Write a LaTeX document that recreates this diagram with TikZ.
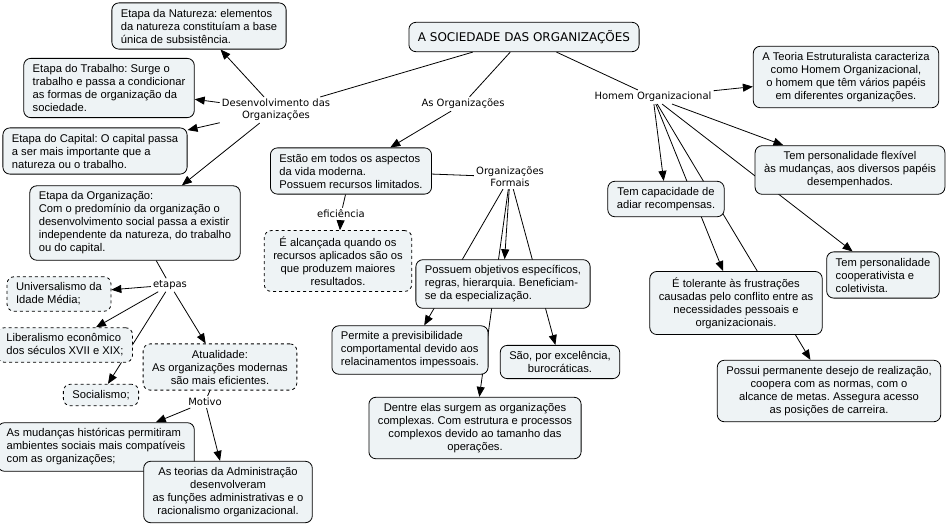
\documentclass[tikz,border=0pt]{standalone}
\usepackage{fontspec}
\newfontfamily\conceptfont{Liberation Sans}
\newfontfamily\linkfont{DejaVu Sans}
\usetikzlibrary{arrows.meta,backgrounds}
\definecolor{conceptfill}{HTML}{EEF3F5}
\frenchspacing

\begin{document}
\begin{tikzpicture}[x=1pt,y=-1pt]
        \useasboundingbox (0,0) rectangle (949,528);

        % concepts
        \begin{scope}[every node/.style={draw, rounded corners=7pt, fill=conceptfill,
            line width=.8pt, inner xsep=9pt, inner ysep=6pt,
            font=\conceptfont\fontsize{11.2}{13}\selectfont}]
          \node[font=\linkfont\fontsize{12}{14}\selectfont, inner ysep=8pt] (soc) at (524,37) {A SOCIEDADE DAS ORGANIZAÇÕES};
          \node[align=left] (nat) at (199,26)  {Etapa da Natureza: elementos\\da natureza constituíam a base\\única de subsistência.};
          \node[align=left] (trab) at (109,88) {Etapa do Trabalho: Surge o\\trabalho e passa a condicionar\\as formas de organização da\\sociedade.};
          \node[align=left] (cap) at (95,151)  {Etapa do Capital: O capital passa\\a ser mais importante que a\\natureza ou o trabalho.};
          \node[align=left] (org) at (135,223) {Etapa da Organização:\\Com o predomínio da organização o\\desenvolvimento social passa a existir\\independente da natureza, do trabalho\\ou do capital.};
          \node[align=left, dashed] (univ) at (59,294) {Universalismo da\\Idade Média;};
          \node[align=left, dashed] (lib) at (65,345)  {Liberalismo econômico\\dos séculos XVII e XIX;};
          \node[dashed] (socl) at (101,395) {Socialismo;};
          \node[align=center, dashed] (atual) at (220,367) {Atualidade:\\As organizações modernas\\são mais eficientes.};
          \node[align=left] (mud) at (96,447)  {As mudanças históricas permitiram\\ambientes sociais mais compatíveis\\com as organizações;};
          \node[align=center] (teor) at (228,492) {As teorias da Administração\\desenvolveram\\as funções administrativas e o\\racionalismo organizacional.};
          \node[align=left] (estao) at (351,171) {Estão em todos os aspectos\\da vida moderna.\\Possuem recursos limitados.};
          \node[align=center, dashed] (alc) at (338,261) {É alcançada quando os\\recursos aplicados são os\\que produzem maiores\\resultados.};
          \node[align=left] (obj) at (503,284) {Possuem objetivos específicos,\\regras, hierarquia. Beneficiam-\\se da especialização.};
          \node[align=left] (prev) at (410,350) {Permite a previsibilidade\\comportamental devido aos\\relacinamentos impessoais.};
          \node[align=center] (buro) at (560,362) {São, por excelência,\\burocráticas.};
          \node[align=center] (compl) at (475,428) {Dentre elas surgem as organizações\\complexas. Com estrutura e processos\\complexos devido ao tamanho das\\operações.};
          \node[align=center] (estr) at (846,77) {A Teoria Estruturalista caracteriza\\como Homem Organizacional,\\o homem que têm vários papéis\\em diferentes organizações.};
          \node[align=center] (flex) at (850,170) {Tem personalidade flexível\\às mudanças, aos diversos papéis\\desempenhados.};
          \node[align=center] (adiar) at (666,199) {Tem capacidade de\\adiar recompensas.};
          \node[align=left] (coop) at (883,275) {Tem personalidade\\cooperativista e\\coletivista.};
          \node[align=center] (tol) at (736,303) {É tolerante às frustrações\\causadas pelo conflito entre as\\necessidades pessoais e\\organizacionais.};
          \node[align=center] (real) at (829,391) {Possui permanente desejo de realização,\\coopera com as normas, com o\\alcance de metas. Assegura acesso\\as posições de carreira.};
        \end{scope}

        % linking phrases
        \begin{scope}[every node/.style={align=center, inner sep=2pt,
            font=\linkfont\fontsize{10}{12}\selectfont}]
          \node (desenv) at (276,110) {Desenvolvimento das\\Organizações};
          \node (asorg)  at (463,104) {As Organizações};
          \node (homem)  at (653,97)  {Homem Organizacional};
          \node (formais) at (510,177) {Organizações\\Formais};
          \node (efic)   at (341,214) {eficiência};
          \node (etapas) at (170,285) {etapas};
          \node (motivo) at (205,402) {Motivo};
        \end{scope}

        \begin{pgfonlayer}{background}
          \begin{scope}[every edge/.style={draw, line width=.8pt},
              toarrow/.style={-{Triangle[length=10pt,width=8pt]}}]
            \path (soc)     edge (desenv);
            \path (soc)     edge (asorg);
            \path (soc)     edge (homem);
            \path (desenv)  edge[toarrow] (nat);
            \path (desenv)  edge[toarrow] (trab);
            \path (desenv)  edge[toarrow] (cap);
            \path (desenv)  edge[toarrow] (org);
            \path (org)     edge (etapas);
            \path (etapas)  edge[toarrow] (univ);
            \path (etapas)  edge[toarrow] (lib);
            \path (etapas)  edge[toarrow] (socl);
            \path (etapas)  edge[toarrow] (atual);
            \path (atual)   edge (motivo);
            \path (motivo)  edge[toarrow] (mud);
            \path (motivo)  edge[toarrow] (teor);
            \path (asorg)   edge[toarrow] (estao);
            \path (estao)   edge (efic);
            \path (efic)    edge[toarrow] (alc);
            \path (estao)   edge (formais);
            \path (formais) edge[toarrow] (obj);
            \path (formais) edge[toarrow] (prev);
            \path (formais) edge[toarrow] (buro);
            \path (formais) edge[toarrow] (compl);
            \path (homem)   edge[toarrow] (estr);
            \path (homem)   edge[toarrow] (flex);
            \path (homem)   edge[toarrow] (adiar);
            \path (homem)   edge[toarrow] (coop);
            \path (homem)   edge[toarrow] (tol);
            \path (homem)   edge[toarrow] (real);
          \end{scope}
        \end{pgfonlayer}

      \end{tikzpicture}
\end{document}
